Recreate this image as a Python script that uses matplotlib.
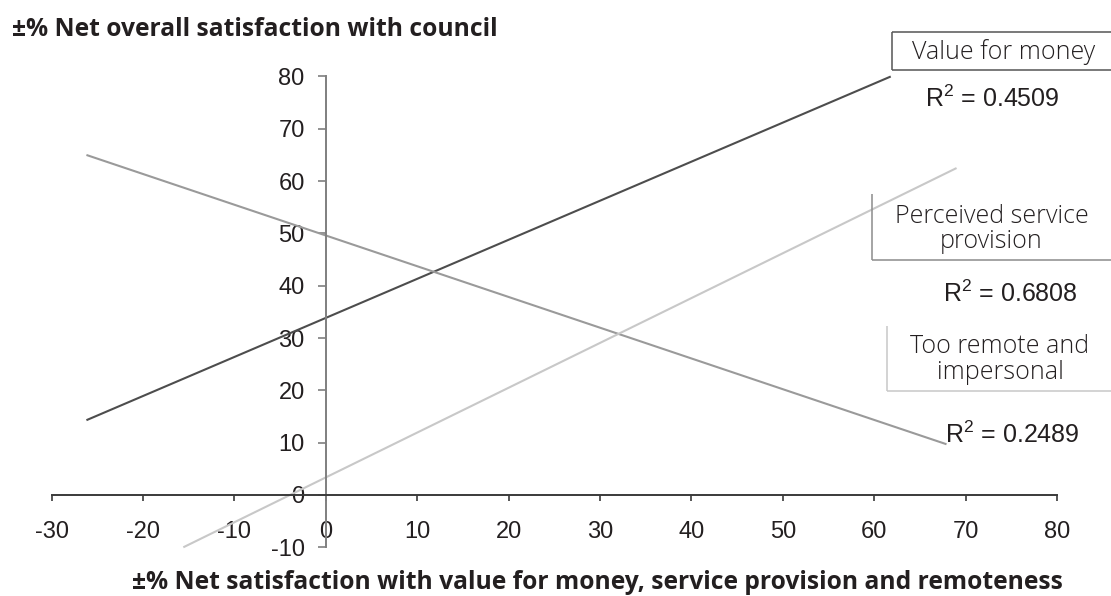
import matplotlib
matplotlib.use("Agg")
import matplotlib.pyplot as plt
from matplotlib.lines import Line2D

# ---- data -------------------------------------------------------------
x_ticks = [-30, -20, -10, 0, 10, 20, 30, 40, 50, 60, 70, 80]
y_ticks = [-10, 0, 10, 20, 30, 40, 50, 60, 70, 80]

# fitted trend lines (start / end points)
value_x = [-26.2, 61.8]
value_y = [14.3, 80.0]
service_x = [-15.6, 69.0]
service_y = [-10.0, 62.5]
remote_x = [-26.2, 67.9]
remote_y = [65.0, 9.7]

r_squared = {"value": 0.4509, "service": 0.6808, "remote": 0.2489}

title_y = "\u00b1% Net overall satisfaction with council"
title_x = "\u00b1% Net satisfaction with value for money, service provision and remoteness"

# ---- figure -------------------------------------------------------------
W, H = 1111, 596
fig = plt.figure(figsize=(W / 100, H / 100), dpi=100)
fig.patch.set_facecolor("white")


def fx(px):
    return px / W


def fy(py):
    return 1 - py / H


ax = fig.add_axes([fx(51.7), fy(547.3), (1057.1 - 51.7) / W, (547.3 - 76.5) / H])
ax.set_xlim(-30, 80)
ax.set_ylim(-10, 80)
ax.set_facecolor("none")

DARK = "#4d4d4d"
MID = "#9a9a9a"
LIGHT = "#c8c8c8"
TXT = "#231f20"

ax.plot(value_x, value_y, color=DARK, lw=1.5, clip_on=False, solid_capstyle="butt")
ax.plot(remote_x, remote_y, color=MID, lw=1.5, clip_on=False, solid_capstyle="butt")
ax.plot(service_x, service_y, color=LIGHT, lw=1.5, clip_on=False, solid_capstyle="butt")

for s in ("top", "right"):
    ax.spines[s].set_visible(False)
ax.spines["left"].set_position(("data", 0))
ax.spines["bottom"].set_position(("data", 0))
ax.spines["left"].set_color("#7f7f7f")
ax.spines["left"].set_linewidth(1.4)
ax.spines["bottom"].set_color("#3a3a3a")
ax.spines["bottom"].set_linewidth(1.4)

ax.set_xticks(x_ticks)
ax.set_xticklabels([str(v) for v in x_ticks])
ax.set_yticks(y_ticks)
ax.set_yticklabels([str(v) for v in y_ticks])
ax.tick_params(axis="x", direction="out", length=4.3, width=1.2, color="#3a3a3a",
               pad=14.5, labelsize=17, labelcolor=TXT)
ax.tick_params(axis="y", direction="out", length=5.8, width=1.2, color="#7f7f7f",
               pad=9.5, labelsize=17, labelcolor=TXT)
for lab in ax.get_xticklabels() + ax.get_yticklabels():
    lab.set_fontfamily("Liberation Sans")

# ---- axis titles ----------------------------------------------------------
fig.text(fx(12), fy(36), title_y, ha="left", va="baseline", fontsize=17.7,
         fontweight="bold", family="Open Sans", color=TXT)
fig.text(fx(597), fy(589), title_x, ha="center", va="baseline", fontsize=17.7,
         fontweight="bold", family="Open Sans", color=TXT)


# ---- series label boxes ---------------------------------------------------
def edge(x0, y0, x1, y1, color):
    fig.add_artist(Line2D([fx(x0), fx(x1)], [fy(y0), fy(y1)], transform=fig.transFigure,
                          color=color, lw=1.1, solid_capstyle="butt"))


# Value for money
edge(892.3, 31.7, 1111, 31.7, "#555555")
edge(892.3, 70.3, 1111, 70.3, "#555555")
edge(892.3, 31.7, 892.3, 70.3, "#555555")
# Perceived service provision
edge(871.7, 194, 871.7, 260, "#8c8c8c")
edge(871.7, 260, 1111, 260, "#8c8c8c")
# Too remote and impersonal
edge(887.3, 326, 887.3, 391, "#c8c8c8")
edge(887.3, 391, 1111, 391, "#c8c8c8")

lab_kw = dict(ha="center", va="baseline", fontsize=18, family="Open Sans",
              fontweight="light", color=TXT)
fig.text(fx(1004), fy(59.3), "Value for money", **lab_kw)
fig.text(fx(991.5), fy(222.7), "Perceived service", **lab_kw)
fig.text(fx(991.5), fy(248.3), "provision", **lab_kw)
fig.text(fx(1000), fy(353.3), "Too remote and", **lab_kw)
fig.text(fx(1000), fy(379.3), "impersonal", **lab_kw)

plt.rcParams["mathtext.fontset"] = "custom"
plt.rcParams["mathtext.rm"] = "Liberation Sans"
r2_kw = dict(ha="left", va="baseline", fontsize=18, family="Liberation Sans", color=TXT)
fig.text(fx(925), fy(107.3), r"R$^{\mathregular{2}}$ = %.4f" % r_squared["value"], **r2_kw)
fig.text(fx(942.7), fy(301.7), r"R$^{\mathregular{2}}$ = %.4f" % r_squared["service"], **r2_kw)
fig.text(fx(945), fy(443.3), r"R$^{\mathregular{2}}$ = %.4f" % r_squared["remote"], **r2_kw)

fig.savefig("out.png", dpi=100)
